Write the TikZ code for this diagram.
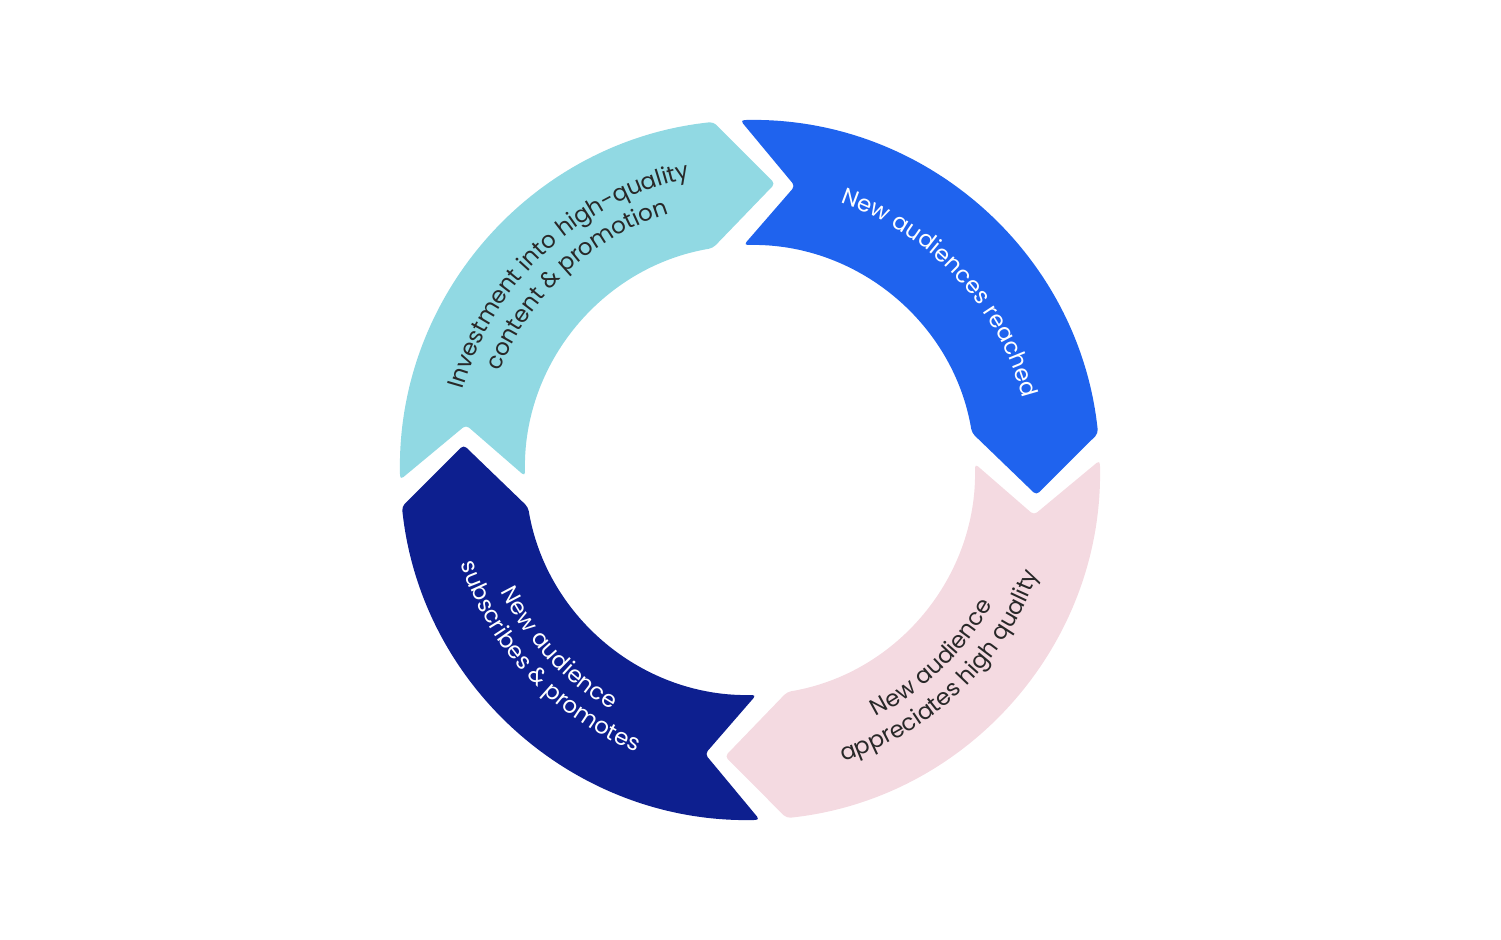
\documentclass[tikz,border=0pt]{standalone}
\usepackage{fontspec}
\usepackage{tikz}
\usetikzlibrary{decorations.text}
\newfontfamily\ringfont{Poppins}
\newcommand{\ringtext}{\ringfont\fontsize{11.5}{14}\selectfont}
\definecolor{CycleCyan}{RGB}{145,217,227}
\definecolor{CycleBlue}{RGB}{31,99,238}
\definecolor{CyclePink}{RGB}{244,218,225}
\definecolor{CycleNavy}{RGB}{13,31,143}
\definecolor{CycleInk}{RGB}{40,40,40}

\tikzset{
    ringlabel/.style={decorate, decoration={text along path, text align=center, text color=#1}},
}

\begin{document}
\begin{tikzpicture}[x=0.5pt, y=0.5pt]
    \useasboundingbox (-750,-469) rectangle (751,470);
    % four arrows of the cycle, clockwise
    \foreach \col/\n in {CycleCyan/0, CycleBlue/1, CyclePink/2, CycleNavy/3} {
        \pgfmathsetmacro\notch{171-90*\n}
        \pgfmathsetmacro\tip{85-90*\n}
        \fill[\col, rounded corners=2pt]
            (\notch+10.6:350) arc[start angle=\notch+10.6, end angle=\tip+11, radius=350]
            -- (\tip:287.5) -- (\tip+14.5:225)
            arc[start angle=\tip+14.5, end angle=\notch+10.6, radius=225]
            -- (\notch:287.5) -- cycle;
    }
    % labels
    \path[ringlabel=CycleInk, decoration={text={|\ringtext|Investment into high-quality}}]
        (173:298) arc[start angle=173, end angle=93, radius=298];
    \path[ringlabel=CycleInk, decoration={text={|\ringtext|content {\&} promotion}}]
        (173:269) arc[start angle=173, end angle=93, radius=269];
    \path[ringlabel=white, decoration={text={|\ringtext|New audiences reached}}]
        (83:282) arc[start angle=83, end angle=3, radius=282];
    \path[ringlabel=CycleInk, decoration={text={|\ringtext|New audience}}]
        (-86:277) arc[start angle=-86, end angle=-6, radius=277];
    \path[ringlabel=CycleInk, decoration={text={|\ringtext|appreciates high quality}}]
        (-86:306) arc[start angle=-86, end angle=-6, radius=306];
    \path[ringlabel=white, decoration={text={|\ringtext|New audience}}]
        (183:277) arc[start angle=183, end angle=263, radius=277];
    \path[ringlabel=white, decoration={text={|\ringtext|subscribes {\&} promotes}}]
        (183:304) arc[start angle=183, end angle=263, radius=304];
\end{tikzpicture}
\end{document}
